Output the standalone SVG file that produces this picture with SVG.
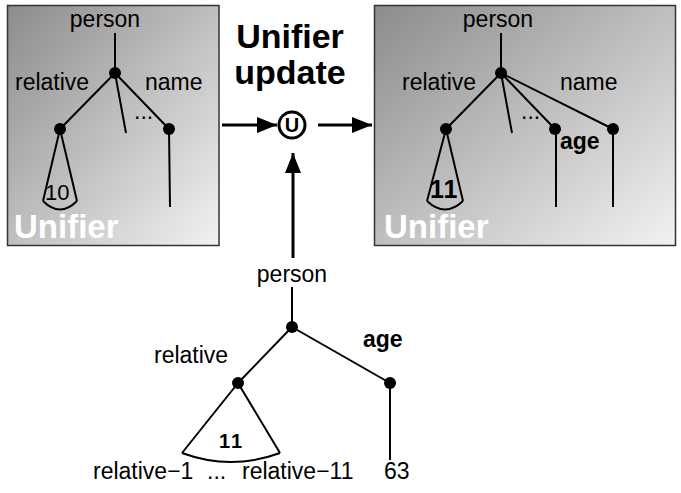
<svg xmlns="http://www.w3.org/2000/svg" width="681" height="493" viewBox="0 0 681 493">
<defs>
<linearGradient id="g" x1="0" y1="0" x2="1" y2="1">
<stop offset="0" stop-color="#8c8c8c"/>
<stop offset="1" stop-color="#f2f2f2"/>
</linearGradient>
<marker id="ah" viewBox="0 0 20 16" refX="20" refY="8" markerWidth="20" markerHeight="16" markerUnits="userSpaceOnUse" orient="auto">
<path d="M0,0 L20,8 L0,16 Z" fill="#000"/>
</marker>
<style>
text{font-family:"Liberation Sans",Arial,sans-serif;fill:#000}
.t{font-size:23px}
.b{font-weight:bold}
.w{fill:#fff;font-weight:bold;font-size:33px}
.ln{stroke:#000;stroke-width:2;fill:none}
.box{fill:url(#g);stroke:#333;stroke-width:1.5}
.arr{stroke:#000;stroke-width:3;fill:none;marker-end:url(#ah)}
</style>
</defs>
<rect width="681" height="493" fill="#fff"/>

<g id="left-unifier">
<rect class="box" x="7.5" y="5.5" width="211.5" height="240"/>
<text class="t" x="105" y="27" text-anchor="middle">person</text>
<text class="t" x="15" y="90">relative</text>
<text class="t" x="145" y="90">name</text>
<text class="t" x="134" y="119">...</text>
<path class="ln" d="M115,33 L115,73 M115,73 L60,129 M115,73 L126,133 M115,73 L169,129 M169,129 L170,207"/>
<path class="ln" d="M60,129 L43,201 M60,129 L77,201 M43,201 Q60,218 77,201"/>
<circle cx="115" cy="73" r="6"/>
<circle cx="60" cy="129" r="6"/>
<circle cx="169" cy="129" r="6"/>
<text x="45" y="200" style="font-size:22px">10</text>
<text class="w" x="14" y="238">Unifier</text>
</g>

<g id="title">
<text class="b" x="290" y="48" text-anchor="middle" style="font-size:34px">Unifier</text>
<text class="b" x="290" y="84" text-anchor="middle" style="font-size:34px">update</text>
</g>

<g id="unify-op">
<circle cx="292" cy="125" r="13" fill="#fff" stroke="#000" stroke-width="3"/>
<text class="b" x="292" y="132" text-anchor="middle" style="font-size:20px">U</text>
</g>

<g id="right-unifier">
<rect class="box" x="374.5" y="5.5" width="301" height="240"/>
<text class="t" x="498" y="27" text-anchor="middle">person</text>
<text class="t" x="402" y="90">relative</text>
<text class="t" x="560" y="90">name</text>
<text class="t" x="521" y="119">...</text>
<text class="t b" x="560" y="149">age</text>
<path class="ln" d="M501,33 L501,73 M501,73 L446,129 M501,73 L512,133 M501,73 L555,129 M501,73 L613,129 M556,129 L556,207 M613,129 L613,207"/>
<path class="ln" d="M446,129 L427,201 M446,129 L463,201 M427,201 Q445,218 463,201"/>
<circle cx="501" cy="73" r="6"/>
<circle cx="446" cy="129" r="6"/>
<circle cx="555" cy="129" r="6"/>
<circle cx="613" cy="129" r="6"/>
<text class="b" x="430" y="198" style="font-size:25px;letter-spacing:1px">11</text>
<text class="w" x="384" y="238">Unifier</text>
</g>

<g id="update-tree">
<text class="t" x="292" y="282" text-anchor="middle">person</text>
<text class="t" x="154" y="363">relative</text>
<text class="t b" x="363" y="347">age</text>
<path class="ln" d="M292,287 L292,327 M292,327 L238,383 M292,327 L390,383 M390,383 L390,460"/>
<path class="ln" d="M238,383 L182,453 M238,383 L280,453 M182,453 Q231,471 280,453"/>
<circle cx="292" cy="327" r="6"/>
<circle cx="238" cy="383" r="6"/>
<circle cx="390" cy="383" r="6"/>
<text class="b" x="219" y="448" style="font-size:20px;letter-spacing:2px">11</text>
<text class="t" x="93" y="479">relative−1</text>
<text class="t" x="207" y="479">...</text>
<text class="t" x="242" y="479">relative−11</text>
<text class="t" x="384" y="479">63</text>
</g>

<g id="connectors">
<line class="arr" x1="222" y1="125" x2="277" y2="125"/>
<line class="arr" x1="318" y1="125" x2="372" y2="125"/>
<line class="arr" x1="293" y1="258" x2="293" y2="153"/>
</g>
</svg>
